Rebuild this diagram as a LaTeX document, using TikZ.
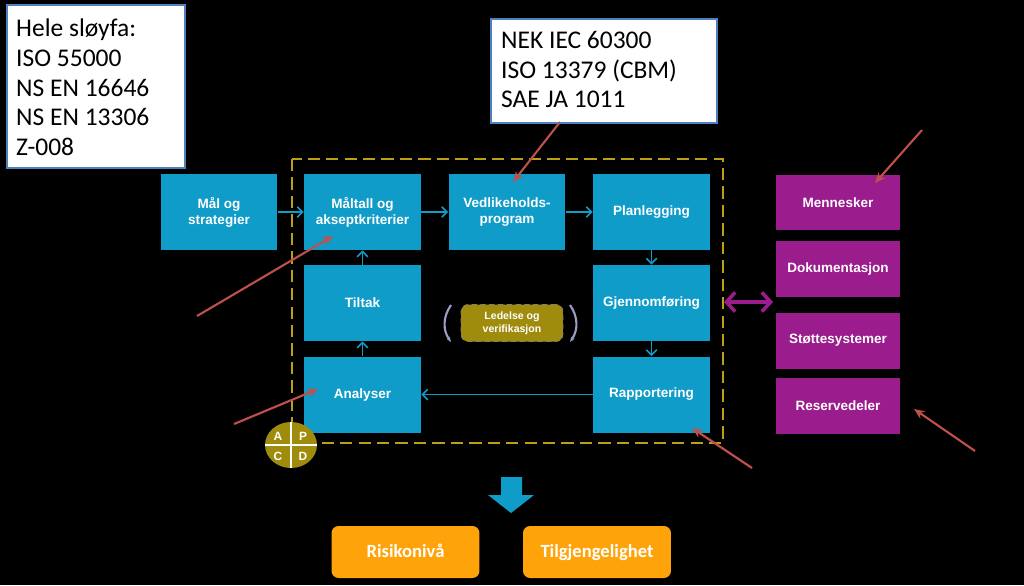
\documentclass[tikz,border=0pt]{standalone}
\usepackage{fontspec}
\setmainfont{Liberation Sans}
\newfontfamily\calfont{Carlito}
\usetikzlibrary{arrows.meta,shapes.geometric}

\definecolor{boxblue}{RGB}{16,156,200}
\definecolor{boxpurple}{RGB}{155,28,140}
\definecolor{boxorange}{RGB}{255,163,10}
\definecolor{olive}{RGB}{160,140,12}
\definecolor{dashyellow}{RGB}{185,160,20}
\definecolor{notered}{RGB}{192,80,77}
\definecolor{frameblue}{RGB}{79,129,189}

\tikzset{
  stepbox/.style={fill=boxblue, text=white, minimum width=2.34cm, minimum height=1.52cm,
    align=center, font=\fontsize{7.7}{9.2}\selectfont\bfseries},
  resbox/.style={fill=boxpurple, text=white, minimum width=2.48cm, minimum height=1.12cm,
    align=center, font=\fontsize{7.7}{9.2}\selectfont\bfseries},
  resultbox/.style={fill=boxorange, text=white, rounded corners=4pt, minimum width=2.96cm,
    minimum height=1.04cm, text height=1.5ex, text depth=0.3ex,
    font=\calfont\fontsize{10.6}{12}\selectfont\bfseries},
  stdbox/.style={fill=white, draw=frameblue, line width=1pt, anchor=north west, inner sep=0pt},
  stdtext/.style={anchor=north west, align=left, font=\calfont\fontsize{14.5}{16.9}\selectfont},
  flow/.style={boxblue, line width=0.9pt, -{Straight Barb[length=3pt,width=6pt]}},
  note/.style={notered, line width=1.2pt, -{Stealth[length=6pt,width=5pt]}},
}

\begin{document}
\begin{tikzpicture}[x=0.02cm, y=-0.02cm]
\fill[black] (0,0) rectangle (1024,585);
\useasboundingbox (0,0) rectangle (1024,585);

\draw[dashyellow, line width=1.1pt, dash pattern=on 7pt off 3.5pt] (292,159) rectangle (723,443);

\node[stdbox, minimum width=3.56cm, minimum height=3.26cm] (hele) at (6,4) {};
\node[stdtext] (heletext) at (10,13) {Hele sløyfa:\\ISO 55000\\NS EN 16646\\NS EN 13306\\Z-008};
\node[stdbox, minimum width=4.52cm, minimum height=2.08cm] (nek) at (490,18) {};
\node[stdtext] (nektext) at (495,25) {NEK IEC 60300\\ISO 13379 (CBM)\\SAE JA 1011};

\node[stepbox] (mal) at (219,212) {Mål og\\strategier};
\node[stepbox] (maltall) at (362.5,212) {Måltall og\\akseptkriterier};
\node[stepbox] (vedl) at (507,212) {Vedlikeholds-\\program};
\node[stepbox] (plan) at (651.5,212) {Planlegging};
\node[stepbox] (tiltak) at (362.5,303) {Tiltak};
\node[stepbox] (gjenn) at (651.5,303) {Gjennomføring};
\node[stepbox] (analyser) at (362.5,394.5) {Analyser};
\node[stepbox] (rapp) at (651.5,394.5) {Rapportering};

\draw[flow] (mal) -- (maltall);
\draw[flow] (maltall) -- (vedl);
\draw[flow] (vedl) -- (plan);
\draw[flow] (plan) -- (gjenn);
\draw[flow] (gjenn) -- (rapp);
\draw[flow] (rapp) -- (analyser);
\draw[flow] (analyser) -- (tiltak);
\draw[flow] (tiltak) -- (maltall);

\node[fill=olive, draw=gray, densely dashed, thin, rounded corners=4pt, minimum width=2.04cm,
  minimum height=0.74cm, align=center, text=white, font=\fontsize{6}{7.5}\selectfont\bfseries]
  (ledelse) at (512,323) {Ledelse og\\verifikasjon};
\draw[gray!70!blue!60, line width=1.2pt, -{Stealth[length=3pt]}] (451,305) to[bend right=35] (451,342);
\draw[gray!70!blue!60, line width=1.2pt, -{Stealth[length=3pt]}] (570,305) to[bend left=35] (570,342);

\node[draw=none, fill=olive, ellipse, minimum width=1.04cm, minimum height=0.92cm, inner sep=0pt]
  (pdca) at (291,445) {};
\draw[white, line width=1pt] (pdca.west) -- (pdca.east) (pdca.north) -- (pdca.south);
\begin{scope}[text=white, font=\fontsize{6.8}{7}\selectfont\bfseries]
  \node (pa) at (278,436) {A};
  \node (pp) at (303,436) {P};
  \node (pc) at (278,456) {C};
  \node (pd) at (303,456) {D};
\end{scope}

\node[resbox] (menn) at (838,202.5) {Mennesker};
\node[resbox] (dok) at (838,269) {Dokumentasjon};
\node[resbox] (stotte) at (838,340.5) {Støttesystemer};
\node[resbox] (reserve) at (838,406) {Reservedeler};

\coordinate (loopedge) at (724,302);
\coordinate (resedge) at (773,302);
\draw[boxpurple, line width=2pt, {Straight Barb[length=5pt,width=11pt]}-{Straight Barb[length=5pt,width=11pt]}]
  (loopedge) -- (resedge);

\fill[boxblue] (501,477) -- (522,477) -- (522,495) -- (534,495) -- (511,513) -- (488,495) -- (501,495) -- cycle;

\node[resultbox] (risiko) at (405.5,552) {Risikonivå};
\node[resultbox] (tilgj) at (597,552) {Tilgjengelighet};

\coordinate (n1a) at (197,316);  \coordinate (n1b) at (333,236);
\coordinate (n2a) at (234,424);  \coordinate (n2b) at (318,389);
\coordinate (n3a) at (560,122);  \coordinate (n3b) at (513,182);
\coordinate (n4a) at (752,468);  \coordinate (n4b) at (692,428);
\coordinate (n5a) at (922,130);  \coordinate (n5b) at (875,183);
\coordinate (n6a) at (975,451);  \coordinate (n6b) at (914,409);
\draw[note] (n1a) -- (n1b);
\draw[note] (n2a) -- (n2b);
\draw[note] (n3a) -- (n3b);
\draw[note] (n4a) -- (n4b);
\draw[note] (n5a) -- (n5b);
\draw[note] (n6a) -- (n6b);
\end{tikzpicture}
\end{document}
